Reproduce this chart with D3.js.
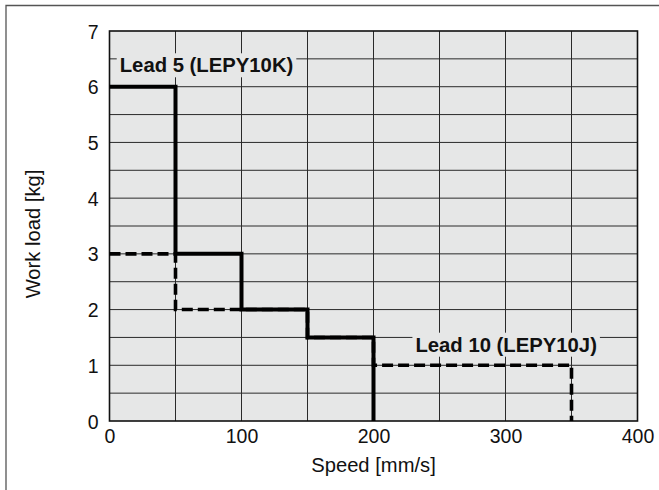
<!DOCTYPE html>
<html><head><meta charset="utf-8">
<script src="https://cdn.jsdelivr.net/npm/d3@7"></script>
<style>body{margin:0;background:#fff}svg{display:block;font-family:"Liberation Sans",Arial,Helvetica,sans-serif}</style>
</head><body><svg id="c" width="659" height="490"></svg>
<script>
const xTicks = [0, 100, 200, 300, 400];
const yTicks = [0, 1, 2, 3, 4, 5, 6, 7];
const lead5Speed = [0, 50, 50, 100, 100, 150, 150, 200, 200];
const lead5Load  = [6, 6, 3, 3, 2, 2, 1.5, 1.5, 0];
const lead10Speed = [0, 50, 50, 150, 150, 200, 200, 350, 350];
const lead10Load  = [3, 3, 2, 2, 1.5, 1.5, 1, 1, 0];
const seriesLabels = ["Lead 5 (LEPY10K)", "Lead 10 (LEPY10J)"];
const labelAt = [[73.5, 6.39], [300.5, 1.375]];

const svg = d3.select("#c");
const L = 109.5, R = 637.5, T = 31, B = 421;
const x = d3.scaleLinear().domain([0, 400]).range([L, R]);
const y = d3.scaleLinear().domain([0, 7]).range([B, T]);

// outer frame
svg.append("path").attr("d", `M6,490 V5.5 H659`).attr("fill","none").attr("stroke","#555").attr("stroke-width",1.3);

svg.append("rect").attr("x", L).attr("y", T).attr("width", R-L).attr("height", B-T).attr("fill", "#e6e7e7");

const g = svg.append("g");
d3.range(50, 400, 50).forEach(v => g.append("line").attr("x1", x(v)).attr("x2", x(v)).attr("y1", T).attr("y2", B).attr("stroke","#2a2a2a").attr("stroke-width",1));
d3.range(0.5, 7, 0.5).forEach(v => g.append("line").attr("y1", y(v)).attr("y2", y(v)).attr("x1", L).attr("x2", R).attr("stroke","#2a2a2a").attr("stroke-width",1));

// border
svg.append("rect").attr("x", L).attr("y", T).attr("width", R-L).attr("height", B-T).attr("fill","none").attr("stroke","#111").attr("stroke-width",1.6);

const line = d3.line().x(d => x(d[0])).y(d => y(d[1]));
svg.append("path").datum(d3.zip(lead10Speed, lead10Load)).attr("d", line).attr("fill","none").attr("stroke","#000").attr("stroke-width",3.6).attr("stroke-dasharray","11,5");
svg.append("path").datum(d3.zip(lead5Speed, lead5Load)).attr("d", line).attr("fill","none").attr("stroke","#000").attr("stroke-width",4).attr("stroke-linejoin","miter").attr("stroke-linecap","butt");

// labels with background
const lab = svg.append("g");
seriesLabels.forEach((t, i) => {
  const tx = lab.append("text").attr("x", x(labelAt[i][0])).attr("y", y(labelAt[i][1])).attr("dy","0.36em").attr("text-anchor","middle")
    .attr("font-weight","bold").attr("font-size", 20.3).attr("fill","#111").text(t);
  const bb = tx.node().getBBox();
  lab.insert("rect", "text").attr("x", bb.x - 3).attr("y", bb.y - 1).attr("width", bb.width + 6).attr("height", bb.height + 2).attr("fill","#e6e7e7");
});

// axes
const fmt = d3.format("d");
const xa = svg.append("g").attr("transform", `translate(0,${B})`).call(d3.axisBottom(x).tickValues(xTicks).tickFormat(fmt).tickSize(0).tickPadding(8));
const ya = svg.append("g").attr("transform", `translate(${L},0)`).call(d3.axisLeft(y).tickValues(yTicks).tickFormat(fmt).tickSize(0).tickPadding(11));
[xa, ya].forEach(a => { a.select(".domain").remove(); a.selectAll("text").attr("font-size", 19.5).attr("fill","#111").attr("font-family","Liberation Sans, Arial, sans-serif"); });
ya.selectAll("text").attr("dy", "0.36em");

svg.append("text").attr("x", (L+R)/2).attr("y", 471.5).attr("text-anchor","middle").attr("font-size", 20.2).attr("fill","#111").text("Speed [mm/s]");
svg.append("text").attr("transform", `translate(40,234) rotate(-90)`).attr("text-anchor","middle").attr("font-size", 20.2).attr("fill","#111").text("Work load [kg]");
</script></body></html>
